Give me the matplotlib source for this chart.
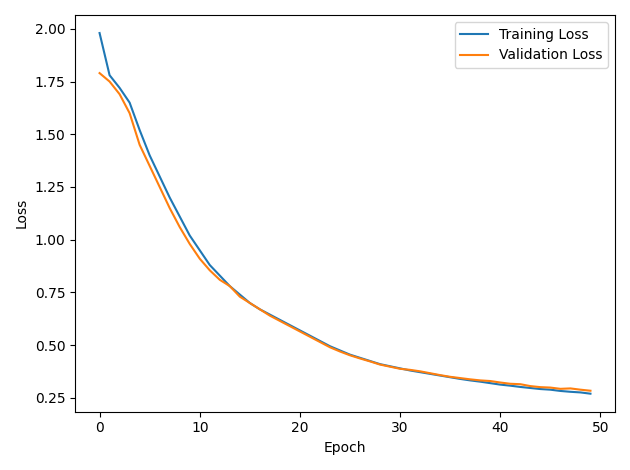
import numpy as np
import matplotlib
matplotlib.use('Agg')
import matplotlib.pyplot as plt

train_loss = [1.98, 1.78, 1.72, 1.65, 1.52, 1.40, 1.30, 1.20, 1.11, 1.02,
              0.95, 0.88, 0.83, 0.78, 0.74, 0.70, 0.67, 0.645, 0.62, 0.595,
              0.57, 0.545, 0.52, 0.495, 0.475, 0.455, 0.44, 0.425, 0.41, 0.40,
              0.39, 0.38, 0.372, 0.364, 0.356, 0.348, 0.34, 0.333, 0.327, 0.32,
              0.313, 0.308, 0.302, 0.297, 0.292, 0.289, 0.283, 0.279, 0.276, 0.27]
val_loss = [1.79, 1.75, 1.69, 1.60, 1.45, 1.35, 1.25, 1.15, 1.06, 0.98,
            0.91, 0.855, 0.81, 0.78, 0.73, 0.70, 0.67, 0.64, 0.615, 0.59,
            0.565, 0.54, 0.515, 0.49, 0.47, 0.452, 0.437, 0.423, 0.408, 0.398,
            0.388, 0.383, 0.376, 0.367, 0.358, 0.35, 0.344, 0.338, 0.333, 0.33,
            0.323, 0.317, 0.315, 0.306, 0.301, 0.299, 0.293, 0.295, 0.289, 0.284]

epochs = np.arange(len(train_loss))

fig = plt.figure(figsize=(6.3, 4.7), dpi=100)
plt.plot(epochs, train_loss, label='Training Loss')
plt.plot(epochs, val_loss, label='Validation Loss')
plt.xlabel('Epoch')
plt.ylabel('Loss')
plt.legend()
plt.tight_layout()
plt.savefig('out.png')
